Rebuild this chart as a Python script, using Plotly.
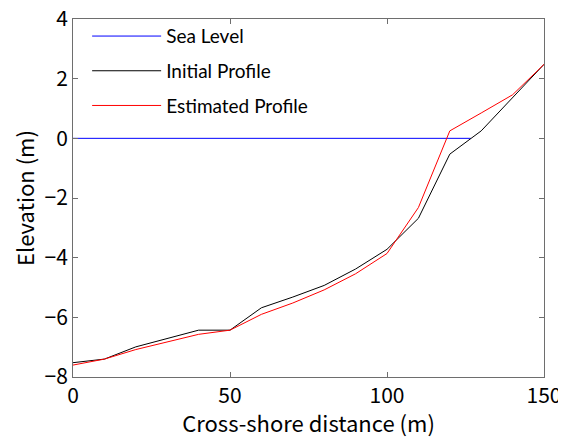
import plotly.graph_objects as go

distance = [0, 10, 20, 30, 40, 50, 60, 70, 80, 90, 100, 110, 120, 130, 140, 150]
initial_profile = [-7.52, -7.4, -6.99, -6.71, -6.43, -6.43, -5.68, -5.32, -4.93, -4.38,
                   -3.72, -2.68, -0.53, 0.25, 1.35, 2.48]
estimated_profile = [-7.6, -7.4, -7.08, -6.82, -6.57, -6.43, -5.9, -5.52, -5.08, -4.54,
                     -3.86, -2.32, 0.25, 0.85, 1.46, 2.48]
sea_level_x = [0, 126.7]
sea_level_y = [0, 0]

x_ticks = [0, 50, 100, 150]
y_ticks = [-8, -6, -4, -2, 0, 2, 4]
y_tick_text = ["\u22128", "\u22126", "\u22124", "\u22122", "0", "2", "4"]

fig = go.Figure()
fig.add_trace(go.Scatter(x=sea_level_x, y=sea_level_y, mode="lines", name="Sea Level",
                         line=dict(color="#0000ff", width=1), legendgroup="a"))
fig.add_trace(go.Scatter(x=distance, y=initial_profile, mode="lines", name="Initial Profile",
                         line=dict(color="#000000", width=1), legendgroup="b"))
fig.add_trace(go.Scatter(x=distance, y=estimated_profile, mode="lines", name="Estimated Profile",
                         line=dict(color="#ff0000", width=1), legendgroup="c"))

axis_font = dict(family="Noto Sans CJK JP", size=21, color="black")
title_font = dict(family="Noto Sans CJK JP", size=22, color="black")
fig.update_layout(
    width=558, height=430,
    margin=dict(l=65, r=22, t=9, b=61),
    paper_bgcolor="white", plot_bgcolor="white",
    showlegend=True,
    legend=dict(x=0.03, y=1.005, xanchor="left", yanchor="top",
                bgcolor="rgba(0,0,0,0)", borderwidth=0,
                font=dict(family="Lato", size=19, color="black"),
                traceorder="grouped", tracegroupgap=7, itemwidth=69),
)
fig.update_xaxes(range=[0, 150], tickvals=x_ticks, ticks="inside", ticklen=5,
                 showline=True, linecolor="#6e6e6e", linewidth=1, mirror="ticks",
                 showgrid=False, zeroline=False, tickcolor="#6e6e6e",
                 tickfont=axis_font, automargin=False, ticklabeloverflow="allow",
                 title=dict(text="Cross-shore distance (m)", font=title_font, standoff=0))
fig.update_yaxes(range=[-8, 4], tickvals=y_ticks, ticktext=y_tick_text, ticks="inside", ticklen=5,
                 showline=True, linecolor="#6e6e6e", linewidth=1, mirror="ticks",
                 showgrid=False, zeroline=False, tickcolor="#6e6e6e",
                 tickfont=axis_font, automargin=False, ticklabeloverflow="allow",
                 title=dict(text="Elevation (m)", font=title_font, standoff=7))

fig.write_html("out.html")
